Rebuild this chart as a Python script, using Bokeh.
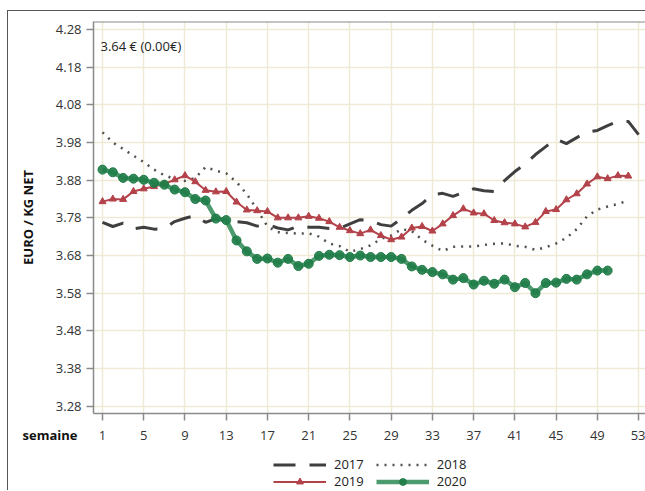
from bokeh.plotting import figure
from bokeh.layouts import column
from bokeh.models import (Range1d, FixedTicker, Label, Legend, LegendItem, Span, Title)
from bokeh.embed import file_html
from bokeh.resources import INLINE

# ---------------- data ----------------
weeks_2017 = list(range(1, 54))
price_2017 = [3.768, 3.757, 3.766, 3.751, 3.755, 3.750, 3.752, 3.770, 3.779, 3.786,
              3.768, 3.778, 3.772, 3.770, 3.767, 3.758, 3.762, 3.753, 3.748, 3.758,
              3.755, 3.755, 3.752, 3.752, 3.764, 3.775, 3.773, 3.762, 3.758, 3.778,
              3.800, 3.818, 3.842, 3.845, 3.837, 3.847, 3.857, 3.852, 3.850, 3.879,
              3.903, 3.923, 3.948, 3.969, 3.989, 3.977, 3.993, 4.007, 4.012, 4.025,
              4.036, 4.036, 4.001]

weeks_2018 = list(range(1, 53))
price_2018 = [4.007, 3.980, 3.963, 3.945, 3.928, 3.908, 3.893, 3.883, 3.878, 3.886,
              3.915, 3.905, 3.898, 3.875, 3.843, 3.802, 3.757, 3.742, 3.740, 3.738,
              3.739, 3.730, 3.712, 3.705, 3.690, 3.697, 3.707, 3.724, 3.733, 3.750,
              3.745, 3.722, 3.706, 3.692, 3.703, 3.704, 3.704, 3.708, 3.711, 3.712,
              3.706, 3.703, 3.695, 3.702, 3.712, 3.727, 3.750, 3.784, 3.802, 3.810,
              3.817, 3.826]

weeks_2019 = list(range(1, 53))
price_2019 = [3.823, 3.830, 3.829, 3.850, 3.857, 3.863, 3.870, 3.881, 3.892, 3.876,
              3.853, 3.849, 3.850, 3.822, 3.801, 3.799, 3.797, 3.780, 3.780, 3.780,
              3.784, 3.779, 3.770, 3.755, 3.746, 3.738, 3.748, 3.733, 3.722, 3.729,
              3.753, 3.757, 3.745, 3.764, 3.786, 3.804, 3.793, 3.791, 3.773, 3.767,
              3.764, 3.756, 3.768, 3.797, 3.802, 3.828, 3.844, 3.870, 3.889, 3.884,
              3.892, 3.891]

weeks_2020 = list(range(1, 51))
price_2020 = [3.908, 3.901, 3.886, 3.884, 3.881, 3.873, 3.868, 3.855, 3.848, 3.830,
              3.826, 3.778, 3.774, 3.720, 3.691, 3.671, 3.672, 3.661, 3.671, 3.652,
              3.658, 3.679, 3.682, 3.681, 3.676, 3.680, 3.676, 3.676, 3.676, 3.671,
              3.651, 3.642, 3.636, 3.630, 3.616, 3.620, 3.603, 3.613, 3.605, 3.616,
              3.596, 3.607, 3.580, 3.607, 3.608, 3.618, 3.616, 3.630, 3.640, 3.640]

x_ticks = [1, 5, 9, 13, 17, 21, 25, 29, 33, 37, 41, 45, 49, 53]
y_ticks = [3.28, 3.38, 3.48, 3.58, 3.68, 3.78, 3.88, 3.98, 4.08, 4.18, 4.28]
y_tick_labels = ["3.28", "3.38", "3.48", "3.58", "3.68", "3.78", "3.88",
                 "3.98", "4.08", "4.18", "4.28"]
series_labels = ["2017", "2018", "2019", "2020"]
annotation_text = "3.64 € (0.00€)"
y_title = "EURO / KG NET"
x_title = "semaine"

FONT = "Open Sans"
C17, C18, C19, C20L, C20M = "#3f3f3f", "#505050", "#b3424a", "#3a8f5e", "#1f7c47"


def draw_series(fig):
    """Draw the four series on a figure; return the renderers."""
    r17 = fig.line(weeks_2017, price_2017, line_color=C17, line_width=3,
                   line_dash="22 14")
    r18 = fig.line(weeks_2018, price_2018, line_color=C18, line_width=2.5,
                   line_dash="2 6")
    r19l = fig.line(weeks_2019, price_2019, line_color=C19, line_width=2)
    r19m = fig.scatter(weeks_2019, price_2019, marker="triangle", size=7,
                       fill_color=C19, line_color=C19)
    r20l = fig.line(weeks_2020, price_2020, line_color=C20L, line_width=4.5,
                    line_alpha=0.9)
    r20m = fig.scatter(weeks_2020, price_2020, marker="circle", size=9,
                       fill_color=C20M, line_color=C20M, fill_alpha=0.9)
    return r17, r18, (r19l, r19m), (r20l, r20m)


# ---------------- main figure ----------------
p = figure(width=637, height=444, output_backend="svg", toolbar_location=None,
           x_range=Range1d(0.127, 53.67), y_range=Range1d(3.2606, 4.3012),
           min_border_left=85, min_border_right=0, min_border_top=10,
           min_border_bottom=42)
p.outline_line_color = None
p.background_fill_color = "white"
p.border_fill_color = "white"

p.xgrid.ticker = FixedTicker(ticks=x_ticks)
p.ygrid.ticker = FixedTicker(ticks=y_ticks)
for g in (p.xgrid, p.ygrid):
    g.grid_line_color = "#efead6"
    g.grid_line_width = 1.5

p.xaxis.ticker = FixedTicker(ticks=x_ticks)
p.yaxis.ticker = FixedTicker(ticks=y_ticks)
p.yaxis.major_label_overrides = {t: l for t, l in zip(y_ticks, y_tick_labels)}
for ax in (p.xaxis, p.yaxis):
    ax.axis_line_color = "#8a8a8a"
    ax.axis_line_width = 1.5
    ax.major_tick_line_color = "#8a8a8a"
    ax.major_tick_line_width = 1.5
    ax.major_tick_out = 7
    ax.major_tick_in = 0
    ax.minor_tick_line_color = None
    ax.major_label_text_font = FONT
    ax.major_label_text_font_size = "13px"
    ax.major_label_text_color = "#333333"
p.xaxis.major_label_standoff = 10
p.yaxis.major_label_standoff = 5
p.yaxis.axis_label = y_title
p.yaxis.axis_label_text_font = FONT
p.yaxis.axis_label_text_font_style = "bold"
p.yaxis.axis_label_text_font_size = "13px"
p.yaxis.axis_label_text_color = "#111111"
p.yaxis.axis_label_standoff = 16

p.add_layout(Span(location=4.3012, dimension="width", line_color="#8a8a8a",
                  line_width=2))

draw_series(p)

p.add_layout(Label(x=0.806, y=4.235, text=annotation_text, text_font=FONT,
                   text_font_size="13px", text_color="#222222",
                   text_baseline="middle", text_align="left"))

# "semaine" on the tick-label row, left of the frame
p.add_layout(Title(text=x_title, align="left", offset=-71, standoff=-34,
                   vertical_align="top", text_font=FONT, text_font_size="13px",
                   text_font_style="bold", text_color="#111111"), "below")

# ---------------- legend strip ----------------
# same series drawn again, but outside this strip's visible range, so only
# their legend glyphs show
q = figure(width=637, height=35, output_backend="svg", toolbar_location=None,
           x_range=Range1d(0, 1), y_range=Range1d(0, 1),
           min_border=0, x_axis_type=None, y_axis_type=None)
q.outline_line_color = None
q.xgrid.visible = False
q.ygrid.visible = False
q.background_fill_color = "white"
q.border_fill_color = "white"

g17, g18, g19, g20 = draw_series(q)


def make_legend(items, loc):
    return Legend(items=items, location=loc, orientation="horizontal",
                  glyph_width=53, glyph_height=17, label_height=17,
                  label_standoff=8, spacing=12, padding=0, margin=0,
                  border_line_color=None, background_fill_alpha=0.0,
                  label_text_font=FONT, label_text_font_size="13px",
                  label_text_color="#222222")


q.add_layout(make_legend([LegendItem(label=series_labels[0], renderers=[g17]),
                          LegendItem(label=series_labels[1], renderers=[g18])],
                         (180, 17)), "center")
q.add_layout(make_legend([LegendItem(label=series_labels[2], renderers=list(g19)),
                          LegendItem(label=series_labels[3], renderers=list(g20))],
                         (180, 0)), "center")

layout = column(p, q, spacing=0,
                styles={"margin": "10px 0px 0px 7px",
                        "border-left": "1px solid #555555",
                        "border-top": "1px solid #555555"})

open("out.html", "w").write(file_html(layout, INLINE))
